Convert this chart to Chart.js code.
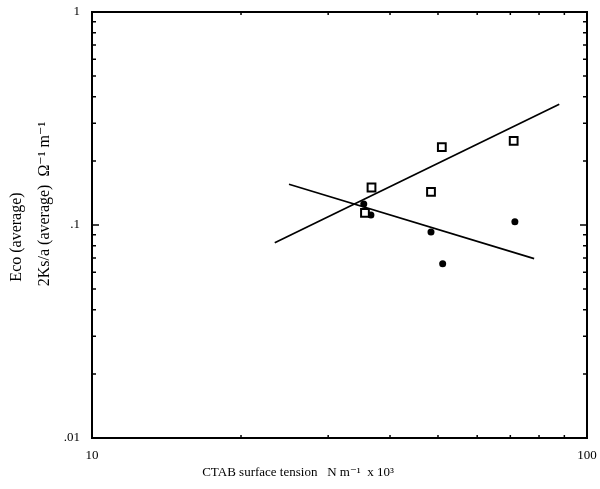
<!DOCTYPE html>
<html>
<head>
<meta charset="utf-8">
<script src="https://cdn.jsdelivr.net/npm/chart.js@4"></script>
<style>
  html, body { margin: 0; padding: 0; background: #fff; }
  #wrap { width: 600px; height: 489px; }
</style>
</head>
<body>
<div id="wrap"><canvas id="chart" width="600" height="489"></canvas></div>
<script>
// surface tension (N m-1 x 10^3) and conductance values
var squareX = [36.7, 35.6, 48.4, 50.9, 71.1];
var squareY = [0.150, 0.114, 0.143, 0.232, 0.248];
var dotX = [35.4, 36.6, 48.4, 51.1, 71.5];
var dotY = [0.1255, 0.1114, 0.0927, 0.0658, 0.1036];

// the two fitted lines (end points)
var riseX = [23.4, 87.9];
var riseY = [0.0826, 0.369];
var fallX = [25.0, 78.2];
var fallY = [0.1553, 0.0695];

var xTickValues = [10, 100];
var xTickLabels = ["10", "100"];
var yTickValues = [0.01, 0.1, 1];
var yTickLabels = [".01", ".1", "1"];

var yTitle1 = "Eco (average)";
var yTitle2 = "2Ks/a (average)  \u03A9\u207B\u00B9 m\u207B\u00B9";
var xTitle = "CTAB surface tension   N m\u207B\u00B9  x 10\u00B3";

var FONT = "'Liberation Serif', 'DejaVu Serif', serif";

function pts(xs, ys) {
    var out = [];
    for (var i = 0; i < xs.length; i++) out.push({x: xs[i], y: ys[i]});
    return out;
}

// minor tick values on a log axis between min and max
function logTicks(min, max) {
    var out = [];
    for (var d = min; d < max; d *= 10) {
        for (var k = 1; k <= 10; k++) out.push({v: d * k, major: k == 1 || k == 10});
    }
    return out;
}

function rotText(ctx, txt, x, y) {
    ctx.save();
    ctx.translate(x, y);
    ctx.rotate(-Math.PI / 2);
    ctx.fillText(txt, 0, 0);
    ctx.restore();
}

// frame + inward tick marks + axis titles
var framePlugin = {
    id: 'frame',
    afterDatasetsDraw: function(chart) {
        var ctx = chart.ctx, a = chart.chartArea;
        var sx = chart.scales.x, sy = chart.scales.y;
        ctx.save();
        ctx.strokeStyle = '#000';
        ctx.lineWidth = 2;
        ctx.strokeRect(a.left, a.top, a.right - a.left, a.bottom - a.top);
        ctx.lineWidth = 1.5;
        ctx.beginPath();
        logTicks(10, 100).forEach(function(t) {
            var px = sx.getPixelForValue(t.v);
            var len = t.major ? 6 : 3;
            ctx.moveTo(px, a.bottom); ctx.lineTo(px, a.bottom - len);
            ctx.moveTo(px, a.top); ctx.lineTo(px, a.top + len);
        });
        logTicks(0.01, 1).forEach(function(t) {
            var py = sy.getPixelForValue(t.v);
            var len = t.major ? 7 : 4;
            ctx.moveTo(a.left, py); ctx.lineTo(a.left + len, py);
            ctx.moveTo(a.right, py); ctx.lineTo(a.right - len, py);
        });
        ctx.stroke();

        ctx.fillStyle = '#000';
        ctx.textAlign = 'center';
        ctx.textBaseline = 'middle';
        ctx.font = '16px ' + FONT;
        rotText(ctx, yTitle1, 17, 237);
        rotText(ctx, yTitle2, 45, 204);
        ctx.font = '13px ' + FONT;
        ctx.fillText(xTitle, 298, 473);
        ctx.restore();
    }
};

var data = {
    datasets: [
        {
            label: 'squares',
            data: pts(squareX, squareY),
            pointStyle: 'rect',
            pointRadius: 5.5,
            pointBorderWidth: 2,
            pointBorderColor: '#000',
            pointBackgroundColor: '#fff',
            showLine: false
        },
        {
            label: 'dots',
            data: pts(dotX, dotY),
            pointStyle: 'circle',
            pointRadius: 3.5,
            pointBorderWidth: 0,
            pointBackgroundColor: '#000',
            showLine: false
        },
        {
            label: 'rise',
            data: pts(riseX, riseY),
            showLine: true,
            borderColor: '#000',
            borderWidth: 1.7,
            pointRadius: 0
        },
        {
            label: 'fall',
            data: pts(fallX, fallY),
            showLine: true,
            borderColor: '#000',
            borderWidth: 1.7,
            pointRadius: 0
        }
    ]
};

var config = {
    type: 'scatter',
    data: data,
    plugins: [framePlugin],
    options: {
        responsive: false,
        animation: false,
        layout: { padding: { top: 12, right: 13, left: 0, bottom: 0 } },
        plugins: {
            legend: { display: false },
            tooltip: { enabled: false }
        },
        scales: {
            x: {
                type: 'logarithmic',
                min: 10,
                max: 100,
                afterBuildTicks: function(s) {
                    s.ticks = xTickValues.map(function(v) { return {value: v}; });
                },
                afterFit: function(s) {
                    s.height = 51;
                    s.paddingLeft = 0;
                    s.paddingRight = 0;
                },
                ticks: {
                    autoSkip: false,
                    maxRotation: 0,
                    padding: 10,
                    color: '#000',
                    font: { family: FONT, size: 13 },
                    callback: function(v) {
                        var i = xTickValues.indexOf(v);
                        return i >= 0 ? xTickLabels[i] : '';
                    }
                },
                grid: { display: false, drawTicks: false },
                border: { display: false }
            },
            y: {
                type: 'logarithmic',
                min: 0.01,
                max: 1,
                afterBuildTicks: function(s) {
                    s.ticks = yTickValues.map(function(v) { return {value: v}; });
                },
                afterFit: function(s) {
                    s.width = 92;
                    s.paddingTop = 0;
                    s.paddingBottom = 0;
                },
                ticks: {
                    autoSkip: false,
                    padding: 12,
                    color: '#000',
                    font: { family: FONT, size: 13 },
                    callback: function(v) {
                        var i = yTickValues.indexOf(v);
                        return i >= 0 ? yTickLabels[i] : '';
                    }
                },
                grid: { display: false, drawTicks: false },
                border: { display: false }
            }
        }
    }
};

var myChart = new Chart(document.getElementById('chart'), config);
</script>
</body>
</html>
